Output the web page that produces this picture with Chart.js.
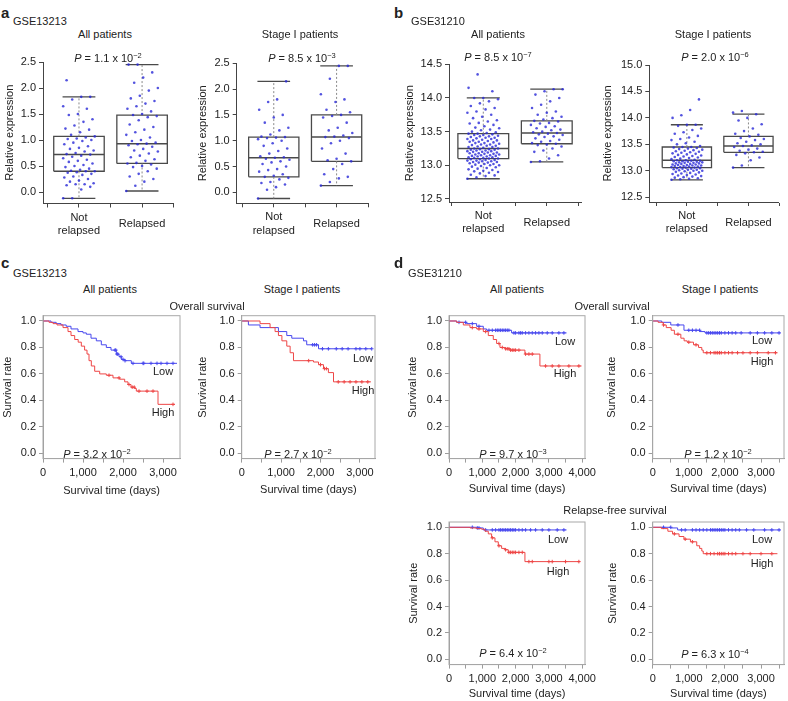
<!DOCTYPE html>
<html><head><meta charset="utf-8">
<script src="https://cdn.jsdelivr.net/npm/chart.js@4.4.1/dist/chart.umd.min.js"></script>
<style>
html,body{margin:0;padding:0;background:#fff;}
#fig{position:relative;width:788px;height:701px;overflow:hidden;font-family:"Liberation Sans",Arial,Helvetica,sans-serif;color:#222;}
#fig canvas{position:absolute;}
.t{position:absolute;white-space:nowrap;font-size:11px;line-height:13px;}
.c{transform:translate(-50%,-50%);}
.l{transform:translate(0,-50%);}
.pl{font-weight:bold;font-size:15px;line-height:17px;}
.t sup{font-size:7.5px;line-height:0;vertical-align:0;position:relative;top:-4px;}
</style></head><body><div id="fig"></div>
<script>
// ---------------- DATA ----------------
const boxCategoryLabels = [['Not', 'relapsed'], 'Relapsed'];
const boxXTicks = [0.5, 1, 1.5, 2, 2.5];
const expAYTicks = [0, 0.5, 1, 1.5, 2, 2.5];
const expBYTicks = [12.5, 13, 13.5, 14, 14.5];
const expB2YTicks = [12.5, 13, 13.5, 14, 14.5, 15];
const survYTicks = [0, 0.2, 0.4, 0.6, 0.8, 1.0];
const kmXTicks3000 = [0, 500, 1000, 1500, 2000, 2500, 3000];
const kmXTicks3500 = [0, 500, 1000, 1500, 2000, 2500, 3000, 3500];
const kmXTicks4000 = [0, 500, 1000, 1500, 2000, 2500, 3000, 3500, 4000];

// a: GSE13213 box plots  (order: Not relapsed, Relapsed)
const a1Lower = [-0.12, 0.02], a1Q1 = [0.40, 0.55], a1Median = [0.72, 0.93], a1Q3 = [1.07, 1.48], a1Upper = [1.83, 2.45];
const a1PointsNotRelapsed = [-0.12,-0.12,0.05,0.1,0.13,0.15,0.15,0.17,0.2,0.22,0.25,0.28,0.3,0.33,0.35,0.37,0.38,0.4,0.4,0.41,0.43,0.45,0.48,0.5,0.52,0.55,0.58,0.6,0.62,0.65,0.68,0.7,0.72,0.73,0.75,0.78,0.8,0.83,0.85,0.88,0.92,0.95,0.98,1.0,1.02,1.03,1.05,1.07,1.1,1.15,1.2,1.22,1.28,1.35,1.4,1.48,1.5,1.6,1.65,1.78,1.83,1.83,2.15];
const a1PointsRelapsed = [0.02,0.12,0.2,0.25,0.3,0.35,0.4,0.45,0.48,0.5,0.53,0.55,0.56,0.6,0.63,0.67,0.7,0.74,0.78,0.8,0.83,0.87,0.9,0.92,0.93,0.95,0.98,1.0,1.05,1.1,1.15,1.2,1.25,1.3,1.38,1.44,1.46,1.48,1.5,1.55,1.6,1.65,1.7,1.75,1.8,1.85,1.95,2.0,2.1,2.2,2.3,2.45,2.45];
const a2Lower = [-0.12, 0.13], a2Q1 = [0.30, 0.60], a2Median = [0.67, 1.07], a2Q3 = [1.07, 1.50], a2Upper = [2.15, 2.45];
const a2PointsNotRelapsed = [-0.12,0.05,0.1,0.15,0.18,0.2,0.25,0.28,0.3,0.32,0.35,0.4,0.43,0.45,0.5,0.55,0.58,0.6,0.63,0.65,0.67,0.68,0.7,0.75,0.8,0.85,0.9,0.95,1.0,1.03,1.05,1.06,1.07,1.08,1.12,1.2,1.25,1.35,1.45,1.5,1.6,1.75,1.8,2.15];
const a2PointsRelapsed = [0.13,0.2,0.27,0.3,0.35,0.45,0.55,0.6,0.62,0.65,0.75,0.85,0.95,1.0,1.05,1.07,1.08,1.1,1.15,1.2,1.25,1.35,1.45,1.48,1.5,1.55,1.6,1.75,1.8,1.9,2.2,2.45,2.45];

// b: GSE31210 box plots
const b1Lower = [12.80, 13.05], b1Q1 = [13.10, 13.32], b1Median = [13.25, 13.48], b1Q3 = [13.47, 13.66], b1Upper = [14.00, 14.13];
const b1PointsNotRelapsed = [12.80,12.82,12.84,12.85,12.86,12.88,12.89,12.90,12.91,12.92,12.93,12.94,12.95,12.96,12.97,12.98,12.99,13.00,13.00,13.01,13.02,13.02,13.03,13.04,13.04,13.05,13.05,13.06,13.06,13.07,13.07,13.08,13.08,13.09,13.09,13.10,13.10,
 13.11,13.11,13.12,13.12,13.13,13.13,13.14,13.14,13.15,13.15,13.16,13.16,13.17,13.17,13.18,13.18,13.19,13.19,13.20,13.20,13.21,13.21,13.22,13.22,13.23,13.23,13.24,13.24,13.25,13.25,
 13.26,13.27,13.27,13.28,13.29,13.29,13.30,13.31,13.31,13.32,13.33,13.33,13.34,13.35,13.35,13.36,13.37,13.37,13.38,13.39,13.39,13.40,13.41,13.41,13.42,13.43,13.43,13.44,13.45,13.45,13.46,13.47,13.47,
 13.48,13.49,13.50,13.52,13.53,13.55,13.56,13.58,13.60,13.62,13.63,13.65,13.67,13.70,13.72,13.75,13.78,13.80,13.83,13.85,13.88,13.92,13.95,13.98,14.00,14.00,14.10,14.15,14.35];
const b1PointsRelapsed = [13.05,13.06,13.1,13.15,13.2,13.22,13.25,13.28,13.3,13.31,13.32,13.33,13.35,13.36,13.38,13.4,13.42,13.43,13.45,13.46,13.47,13.48,13.49,13.5,13.52,13.53,13.55,13.57,13.58,13.6,13.62,13.63,13.65,13.66,13.68,13.7,13.72,13.75,13.78,13.8,13.85,13.9,13.95,14.0,14.05,14.1,14.13,14.13];
const b2Lower = [12.83, 13.06], b2Q1 = [13.06, 13.35], b2Median = [13.20, 13.47], b2Q3 = [13.45, 13.65], b2Upper = [13.87, 14.07];
const b2PointsNotRelapsed = [12.83,12.84,12.85,12.86,12.87,12.88,12.89,12.9,12.91,12.92,12.93,12.94,12.95,12.96,12.97,12.98,12.99,13.0,13.0,13.01,13.02,13.02,13.03,13.04,13.04,13.05,13.05,13.06,13.06,
 13.07,13.07,13.08,13.08,13.09,13.09,13.1,13.1,13.11,13.11,13.12,13.12,13.13,13.13,13.14,13.14,13.15,13.15,13.16,13.16,13.17,13.17,13.18,13.18,13.19,13.19,13.2,13.2,
 13.21,13.22,13.23,13.24,13.25,13.26,13.27,13.28,13.29,13.3,13.31,13.32,13.33,13.34,13.35,13.36,13.37,13.38,13.39,13.4,13.41,13.42,13.43,13.44,13.45,13.45,
 13.47,13.5,13.52,13.55,13.58,13.6,13.63,13.66,13.7,13.73,13.77,13.8,13.85,13.87,13.87,14.0,14.05,14.15,14.35];
const b2PointsRelapsed = [13.06,13.1,13.2,13.25,13.3,13.33,13.35,13.36,13.38,13.4,13.42,13.45,13.47,13.48,13.5,13.52,13.55,13.58,13.6,13.62,13.65,13.68,13.7,13.75,13.8,13.88,13.95,14.0,14.07,14.1,14.13];

// c: GSE13213 overall survival (step times in days, survival after each step)
const c1LowTime = [0,200,330,450,580,700,875,1000,1083,1200,1333,1458,1583,1700,1833,1900,1958,2050,2208,3350];
const c1LowSurv = [1,0.99,0.98,0.97,0.96,0.94,0.92,0.91,0.90,0.87,0.85,0.82,0.80,0.78,0.75,0.73,0.71,0.70,0.68,0.68];
const c1LowCensor = [1800,1820,1850,1870,1950,2000,2050,2250,2500,2520,2700,2850,2950,3100,3250];
const c1HighTime = [0,150,250,350,500,625,700,792,880,958,1040,1100,1150,1208,1292,1417,1583,1750,1917,2042,2125,2200,2292,2333,2875,3300];
const c1HighSurv = [1,0.99,0.98,0.97,0.95,0.92,0.89,0.86,0.84,0.81,0.78,0.75,0.70,0.66,0.62,0.60,0.59,0.57,0.56,0.54,0.52,0.50,0.49,0.47,0.37,0.37];
const c1HighCensor = [1650,1900,2150,2230,2280,2400,2600,2750,3250];
const c2LowTime = [0,170,466,932,1144,1271,1568,1650,1950,3300];
const c2LowSurv = [1,0.97,0.95,0.92,0.89,0.87,0.85,0.82,0.79,0.79];
const c2LowCensor = [1800,1850,1900,2050,2200,2400,2550,2700,2900,3000,3150,3300];
const c2HighTime = [0,466,720,847,932,1020,1144,1229,1314,1822,1950,2076,2200,2330,3280];
const c2HighSurv = [1,0.98,0.95,0.92,0.89,0.85,0.81,0.76,0.70,0.69,0.67,0.64,0.61,0.54,0.54];
const c2HighCensor = [1700,2000,2100,2150,2450,2600,2750,2900,3050,3200];

// d: GSE31210 overall survival and relapse-free survival
const d1LowTime = [0,230,530,830,1030,1130,1880,3530];
const d1LowSurv = [1,0.99,0.98,0.96,0.94,0.93,0.91,0.91];
const d1LowCensor = [300,500,700,900,1200,1300,1400,1450,1500,1550,1600,1650,1700,1750,1800,1950,2000,2100,2150,2200,2300,2400,2500,2600,2700,2800,2950,3100,3300,3450];
const d1HighTime = [0,230,430,630,830,1030,1180,1330,1430,1530,1680,1830,2280,2730,3980];
const d1HighSurv = [1,0.99,0.97,0.95,0.94,0.92,0.89,0.86,0.83,0.80,0.79,0.78,0.75,0.66,0.66];
const d1HighCensor = [700,900,1100,1500,1600,1700,1750,1800,1850,1900,1950,2000,2100,2300,2400,2500,2900,3100,3300,3600,3900];
const d2LowTime = [0,250,500,866,1310,1450,3540];
const d2LowSurv = [1,0.99,0.97,0.93,0.92,0.91,0.91];
const d2LowCensor = [700,1000,1100,1200,1300,1500,1550,1600,1650,1700,1750,1800,1850,1900,2000,2100,2200,2300,2450,2700,2900,3100,3300,3500];
const d2HighTime = [0,150,290,375,510,600,780,870,955,1130,1270,1360,1400,3455];
const d2HighSurv = [1,0.99,0.97,0.95,0.93,0.90,0.87,0.85,0.84,0.82,0.80,0.78,0.76,0.76];
const d2HighCensor = [300,700,1000,1200,1500,1600,1700,1750,1800,1850,1900,2000,2100,2200,2350,2500,2700,2900,3200,3400];
const d3LowTime = [0,830,1030,3530];
const d3LowSurv = [1,0.995,0.98,0.98];
const d3LowCensor = [700,850,900,1100,1300,1400,1500,1550,1600,1650,1700,1750,1800,1850,1900,1950,2000,2100,2200,2300,2450,2600,2800,3000,3250,3450];
const d3HighTime = [0,630,830,980,1080,1180,1280,1380,1480,1580,1680,1780,2280,3930];
const d3HighSurv = [1,0.995,0.99,0.985,0.97,0.95,0.92,0.89,0.86,0.84,0.83,0.81,0.74,0.74];
const d3HighCensor = [1300,1500,1700,1800,1850,1900,1950,2000,2100,2200,2400,2500,3000,3100,3500,3900];
const d4LowTime = [0,510,690,3540];
const d4LowSurv = [1,0.995,0.98,0.98];
const d4LowCensor = [300,500,800,900,1100,1200,1300,1400,1500,1600,1650,1700,1750,1800,1850,1900,1950,2000,2100,2200,2300,2400,2600,2800,3100,3300,3500];
const d4HighTime = [0,240,420,550,730,866,1045,1220,1300,1360,1400,3455];
const d4HighSurv = [1,0.99,0.97,0.95,0.93,0.91,0.89,0.86,0.84,0.82,0.80,0.80];
const d4HighCensor = [600,900,1100,1500,1600,1700,1800,1850,1900,1950,2000,2100,2200,2300,2500,2700,3000,3300];

// ---------------- DRAWING ----------------
const fig = document.getElementById('fig');
const FONT = '"Liberation Sans", Arial, Helvetica, sans-serif';
Chart.defaults.font.family = FONT;
Chart.defaults.font.size = 11;
Chart.defaults.color = '#222';

const BOX_COLOR = '#4a4a4a', WHISK_COLOR = '#8a8a8a', DOT_COLOR = 'rgba(40,40,215,0.8)';
const RED = '#ee4646', BLUE = '#4848ee';

const framePlugin = {
  id: 'frame',
  afterDatasetsDraw(chart, args, opts) {
    if (!opts.on) return;
    const {left, top, right, bottom} = chart.chartArea;
    const ctx = chart.ctx;
    ctx.save(); ctx.strokeStyle = '#a8a8a8'; ctx.lineWidth = 1;
    ctx.strokeRect(left, top, right - left, bottom - top);
    ctx.restore();
  }
};

function lineDs(pts, color, width, dash) {
  return {data: pts, showLine: true, borderColor: color, borderWidth: width, borderDash: dash || [], pointRadius: 0, fill: false};
}
function jitter(i) { return (((i * 37) % 29) / 28 - 0.5) * 0.5; }

function boxDatasets(lower, q1, med, q3, upper, groups) {
  const dots = [], shapes = [];
  const hw = 0.4, cw = 0.26;
  groups.forEach((vals, gi) => {
    const c = gi + 1;
    dots.push({data: vals.map((v, i) => ({x: c + jitter(i), y: v})), pointRadius: 1.3, pointBorderWidth: 0,
               pointBackgroundColor: DOT_COLOR, backgroundColor: DOT_COLOR, showLine: false});
    shapes.push(lineDs([{x: c, y: q3[gi]}, {x: c, y: upper[gi]}], WHISK_COLOR, 1, [2, 2]));
    shapes.push(lineDs([{x: c, y: q1[gi]}, {x: c, y: lower[gi]}], WHISK_COLOR, 1, [2, 2]));
    shapes.push(lineDs([{x: c - cw, y: upper[gi]}, {x: c + cw, y: upper[gi]}], BOX_COLOR, 1.3));
    shapes.push(lineDs([{x: c - cw, y: lower[gi]}, {x: c + cw, y: lower[gi]}], BOX_COLOR, 1.3));
    shapes.push(lineDs([{x: c - hw, y: q1[gi]}, {x: c + hw, y: q1[gi]}, {x: c + hw, y: q3[gi]}, {x: c - hw, y: q3[gi]}, {x: c - hw, y: q1[gi]}], BOX_COLOR, 1.3));
    shapes.push(lineDs([{x: c - hw, y: med[gi]}, {x: c + hw, y: med[gi]}], BOX_COLOR, 1.5));
  });
  return dots.concat(shapes);
}

function stepAt(t, times, surv) {
  let s = surv[0];
  for (let i = 0; i < times.length; i++) if (times[i] <= t) s = surv[i];
  return s;
}
function kmDatasets(curves) {
  const ds = [];
  curves.forEach(([times, surv, cens, color]) => {
    ds.push({data: times.map((t, i) => ({x: t, y: surv[i]})), showLine: true, stepped: true,
             borderColor: color, borderWidth: 1, pointRadius: 0, fill: false});
    ds.push({data: cens.map(t => ({x: t, y: stepAt(t, times, surv)})), showLine: false,
             pointStyle: 'cross', pointRadius: 1.8, pointBorderWidth: 1, borderColor: color, pointBorderColor: color});
  });
  return ds;
}

function makeChart(spec) {
  const [l, t, r, b] = spec.rect;
  const cLeft = Math.floor(spec.yTitleX - 6.6);
  const titlePad = spec.yTitleX - 6.6 - cLeft;
  const cTop = Math.floor(t - 9);
  const bottomEdge = spec.xTitleY !== undefined ? spec.xTitleY + 6.6 : b + 37;
  const cW = Math.ceil(r + 18 - cLeft);
  const cH = Math.round(bottomEdge - cTop);
  const L = l - cLeft, T = t - cTop, R = cW - (r - cLeft), B = cH - (b - cTop);
  const cv = document.createElement('canvas');
  cv.width = cW; cv.height = cH;
  cv.style.left = cLeft + 'px'; cv.style.top = cTop + 'px';
  cv.style.width = cW + 'px'; cv.style.height = cH + 'px';
  fig.appendChild(cv);
  const axisColor = spec.km ? '#9c9c9c' : '#444';
  const tickColor = spec.km ? '#9c9c9c' : '#444';
  const fixPad = s => { s.paddingLeft = 0; s.paddingRight = 0; s.paddingTop = 0; s.paddingBottom = 0; };
  new Chart(cv.getContext('2d'), {
    type: 'scatter',
    data: {datasets: spec.datasets},
    options: {
      responsive: false, animation: false, devicePixelRatio: 1, events: [],
      layout: {autoPadding: false, padding: {left: 0, top: T, right: R, bottom: 0}},
      plugins: {legend: {display: false}, tooltip: {enabled: false}, frame: {on: !!spec.km}},
      scales: {
        x: {
          type: 'linear', min: spec.xMin, max: spec.xMax,
          afterBuildTicks: s => { s.ticks = spec.xTicks.map(v => ({value: v})); },
          afterFit: s => { s.height = B; fixPad(s); },
          grid: {display: true, drawOnChartArea: false, drawTicks: true, tickLength: 4, color: tickColor},
          border: {display: true, color: axisColor, width: 1},
          ticks: {callback: spec.xLabel, padding: 10, maxRotation: 0, minRotation: 0, autoSkip: false,
                  crossAlign: 'center', color: '#222', font: {size: 11}},
          title: spec.xTitle ? {display: true, text: spec.xTitle, color: '#222', padding: {top: 0, bottom: 0}, font: {size: 11}} : {display: false}
        },
        y: {
          type: 'linear', min: spec.yMin, max: spec.yMax,
          afterBuildTicks: s => { s.ticks = spec.yTicks.map(v => ({value: v})); },
          afterFit: s => { s.width = L; fixPad(s); },
          grid: {display: true, drawOnChartArea: false, drawTicks: true, tickLength: 4, color: tickColor},
          border: {display: true, color: axisColor, width: 1},
          ticks: {callback: v => v.toFixed(1), padding: 3, autoSkip: false, color: '#222', font: {size: 11}},
          title: {display: true, text: spec.yTitle, color: '#222', padding: {top: titlePad, bottom: 0}, font: {size: 11}}
        }
      }
    },
    plugins: [framePlugin]
  });
}

const boxLabel = v => Number.isInteger(v) ? boxCategoryLabels[v - 1] : '';
const kmLabel = v => (v % 1000 === 0) ? v.toLocaleString('en-US') : '';

// a panels
makeChart({rect: [43, 62, 173, 203.5], xMin: 0.43, xMax: 2.49, yMin: -0.22, yMax: 2.5, xTicks: boxXTicks, yTicks: expAYTicks,
  xLabel: boxLabel, yTitle: 'Relative expression', yTitleX: 10,
  datasets: boxDatasets(a1Lower, a1Q1, a1Median, a1Q3, a1Upper, [a1PointsNotRelapsed, a1PointsRelapsed])});
makeChart({rect: [236.7, 63.3, 368, 203.3], xMin: 0.41, xMax: 2.5, yMin: -0.213, yMax: 2.5, xTicks: boxXTicks, yTicks: expAYTicks,
  xLabel: boxLabel, yTitle: 'Relative expression', yTitleX: 203.3,
  datasets: boxDatasets(a2Lower, a2Q1, a2Median, a2Q3, a2Upper, [a2PointsNotRelapsed, a2PointsRelapsed])});
// b panels
makeChart({rect: [449, 64.3, 581.7, 202], xMin: 0.46, xMax: 2.55, yMin: 12.455, yMax: 14.5, xTicks: boxXTicks, yTicks: expBYTicks,
  xLabel: boxLabel, yTitle: 'Relative expression', yTitleX: 410,
  datasets: boxDatasets(b1Lower, b1Q1, b1Median, b1Q3, b1Upper, [b1PointsNotRelapsed, b1PointsRelapsed])});
makeChart({rect: [649.3, 65, 778, 202], xMin: 0.39, xMax: 2.48, yMin: 12.41, yMax: 15.0, xTicks: boxXTicks, yTicks: expB2YTicks,
  xLabel: boxLabel, yTitle: 'Relative expression', yTitleX: 608.3,
  datasets: boxDatasets(b2Lower, b2Q1, b2Median, b2Q3, b2Upper, [b2PointsNotRelapsed, b2PointsRelapsed])});

// c panels  (High listed first so the red curve is drawn on top, as in the original)
const kmCommon = {km: true, yMin: -0.04, yMax: 1.04, yTicks: survYTicks, xLabel: kmLabel, yTitle: 'Survival rate', xTitle: 'Survival time (days)'};
makeChart(Object.assign({}, kmCommon, {rect: [43, 315.7, 180, 458.6], xMin: 0, xMax: 3425, xTicks: kmXTicks3000, yTitleX: 8, xTitleY: 491,
  datasets: kmDatasets([[c1HighTime, c1HighSurv, c1HighCensor, RED], [c1LowTime, c1LowSurv, c1LowCensor, BLUE]])}));
makeChart(Object.assign({}, kmCommon, {rect: [241.7, 315.7, 375, 458.6], xMin: 0, xMax: 3383, xTicks: kmXTicks3000, yTitleX: 203, xTitleY: 490,
  datasets: kmDatasets([[c2HighTime, c2HighSurv, c2HighCensor, RED], [c2LowTime, c2LowSurv, c2LowCensor, BLUE]])}));
// d panels
makeChart(Object.assign({}, kmCommon, {rect: [449, 315.7, 585, 458.6], xMin: 0, xMax: 4084, xTicks: kmXTicks4000, yTitleX: 413, xTitleY: 489,
  datasets: kmDatasets([[d1HighTime, d1HighSurv, d1HighCensor, RED], [d1LowTime, d1LowSurv, d1LowCensor, BLUE]])}));
makeChart(Object.assign({}, kmCommon, {rect: [652.7, 315.7, 784, 458.6], xMin: 0, xMax: 3637, xTicks: kmXTicks3500, yTitleX: 612, xTitleY: 489,
  datasets: kmDatasets([[d2HighTime, d2HighSurv, d2HighCensor, RED], [d2LowTime, d2LowSurv, d2LowCensor, BLUE]])}));
makeChart(Object.assign({}, kmCommon, {rect: [449, 522, 585, 664.6], xMin: 0, xMax: 4084, xTicks: kmXTicks4000, yTitleX: 414, xTitleY: 694,
  datasets: kmDatasets([[d3HighTime, d3HighSurv, d3HighCensor, RED], [d3LowTime, d3LowSurv, d3LowCensor, BLUE]])}));
makeChart(Object.assign({}, kmCommon, {rect: [652.7, 522, 784, 664.6], xMin: 0, xMax: 3637, xTicks: kmXTicks3500, yTitleX: 613, xTitleY: 694,
  datasets: kmDatasets([[d4HighTime, d4HighSurv, d4HighCensor, RED], [d4LowTime, d4LowSurv, d4LowCensor, BLUE]])}));

// ---------------- TEXT ----------------
const P = (m, e) => '<i>P</i> = ' + m + ' x 10<sup>\u2212' + e + '</sup>';
const texts = [
  [1, 12, 'a', 'l pl'], [13, 21, 'GSE13213', 'l'],
  [105, 34, 'All patients', 'c'], [108, 58, P('1.1', 2), 'c'],
  [300, 34, 'Stage I patients', 'c'], [302, 58, P('8.5', 3), 'c'],
  [394, 12, 'b', 'l pl'], [411, 21, 'GSE31210', 'l'],
  [498, 34, 'All patients', 'c'], [498, 57, P('8.5', 7), 'c'],
  [713, 34, 'Stage I patients', 'c'], [715, 57, P('2.0', 6), 'c'],
  [1, 262, 'c', 'l pl'], [13, 273, 'GSE13213', 'l'],
  [110, 289, 'All patients', 'c'], [302, 289, 'Stage I patients', 'c'],
  [207, 306, 'Overall survival', 'c'],
  [97, 454, P('3.2', 2), 'c'], [298, 454, P('2.7', 2), 'c'],
  [163, 371, 'Low', 'c'], [163, 412, 'High', 'c'],
  [363, 358, 'Low', 'c'], [363, 390, 'High', 'c'],
  [394, 262, 'd', 'l pl'], [408, 273, 'GSE31210', 'l'],
  [517, 289, 'All patients', 'c'], [720, 289, 'Stage I patients', 'c'],
  [612, 306, 'Overall survival', 'c'],
  [513, 454, P('9.7', 3), 'c'], [718, 454, P('1.2', 2), 'c'],
  [565, 341, 'Low', 'c'], [565, 373, 'High', 'c'],
  [762, 340, 'Low', 'c'], [762, 361, 'High', 'c'],
  [615, 510, 'Relapse-free survival', 'c'],
  [513, 653, P('6.4', 2), 'c'], [715, 654, P('6.3', 4), 'c'],
  [558, 539, 'Low', 'c'], [558, 571, 'High', 'c'],
  [762, 539, 'Low', 'c'], [762, 563, 'High', 'c']
];
texts.forEach(([x, y, html, cls]) => {
  const d = document.createElement('div');
  d.className = 't ' + cls;
  d.style.left = x + 'px'; d.style.top = y + 'px';
  d.innerHTML = html;
  fig.appendChild(d);
});
</script></body></html>
